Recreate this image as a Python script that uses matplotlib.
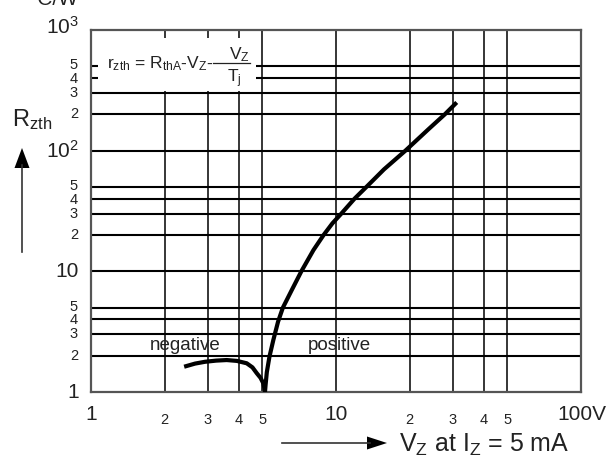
import numpy as np
import matplotlib
matplotlib.use("Agg")
import matplotlib.pyplot as plt
from matplotlib.patches import Rectangle, Polygon
from matplotlib.lines import Line2D

plt.rcParams['font.family'] = ['Liberation Sans', 'DejaVu Sans']
plt.rcParams['mathtext.fontset'] = 'custom'
plt.rcParams['mathtext.rm'] = 'Liberation Sans'
plt.rcParams['mathtext.it'] = 'Liberation Sans'
plt.rcParams['mathtext.bf'] = 'Liberation Sans:bold'

# Curves (V_Z in V, r_zth in C/W)
pos_vz = [5.13, 5.16, 5.22, 5.35, 5.55, 5.8, 6.07, 6.6, 7.22, 8.09,
          8.9, 9.67, 10.5, 11.9, 13.3, 15.7, 19.2, 23.8, 27.8, 31.1]
pos_r = [1.0, 1.15, 1.46, 1.96, 2.7, 3.82, 5.0, 7, 10, 15,
         20, 25, 30, 40, 50, 70, 100, 150, 200, 251]
neg_vz = [2.40, 2.66, 2.92, 3.24, 3.58, 3.94, 4.32, 4.56, 4.75, 4.92, 5.05, 5.10, 5.13]
neg_r = [1.62, 1.72, 1.78, 1.82, 1.84, 1.81, 1.73, 1.60, 1.43, 1.31, 1.18, 1.08, 1.0]

x_major = [1, 10, 100]
x_major_labels = ['1', '10', '100V']
x_minor = [2, 3, 4, 5, 20, 30, 40, 50]
y_major = [1, 10, 100, 1000]
y_major_labels = ['1', '10', r'$\mathregular{10^2}$', r'$\mathregular{10^3}$']
y_minor = [2, 3, 4, 5, 20, 30, 40, 50, 200, 300, 400, 500]

W, H = 611, 458
fig = plt.figure(figsize=(W / 100, H / 100), dpi=100)


def px(x, y):
    # pixel position (top-left origin) -> inches for dpi_scale_trans
    return (x / 100, (H - y) / 100)


left, right, top, bottom = 91, 581, 30, 392
ax = fig.add_axes([left / W, 1 - bottom / H, (right - left) / W, (bottom - top) / H])
ax.set_xscale('log')
ax.set_yscale('log')
ax.set_xlim(1, 100)
ax.set_ylim(1, 1000)
ax.set_xticks([])
ax.set_yticks([])
ax.minorticks_off()
ax.tick_params(which='both', length=0, labelbottom=False, labelleft=False)
for s in ax.spines.values():
    s.set_color('#555555')
    s.set_linewidth(1.6)

# grid
for v in x_minor + [10]:
    ax.axvline(v, color='black', lw=1.1, zorder=1)
for v in y_minor + [10, 100]:
    ax.axhline(v, color='black', lw=1.5, zorder=1)

# white box for the formula
ax.add_patch(Rectangle((1.068, 312), 4.71 - 1.068, 857 - 312, facecolor='white',
                       edgecolor='none', zorder=2))

ax.plot(pos_vz, pos_r, color='black', lw=3, solid_capstyle='butt', zorder=3)
ax.plot(neg_vz, neg_r, color='black', lw=3, solid_capstyle='butt', zorder=3)

ax.text(1.74, 2.45, 'negative', fontsize=13.5, color='#222222', va='center', zorder=4)
ax.text(7.69, 2.42, 'positive', fontsize=13.5, color='#222222', va='center', zorder=4)

tr = fig.dpi_scale_trans
tc = '#222222'

# x tick labels
for v, lab in zip(x_major, x_major_labels):
    xp = left + np.log10(v) * (right - left) / 2
    if lab == '100V':
        fig.text(*px(557, 415), lab, transform=tr, fontsize=15, color=tc, ha='left', va='center')
    else:
        fig.text(*px(xp, 415), lab, transform=tr, fontsize=15, color=tc, ha='center', va='center')
for v in x_minor:
    xp = left + np.log10(v) * (right - left) / 2
    lab = str(int(v if v < 10 else v / 10))
    fig.text(*px(xp, 420), lab, transform=tr, fontsize=10.5, color=tc, ha='center', va='center')

# y tick labels
for v, lab in zip(y_major, y_major_labels):
    yp = bottom - np.log10(v) * (bottom - top) / 3
    if v == 1000:
        yp -= 3
    fig.text(*px(79, yp), lab, transform=tr, fontsize=15, color=tc, ha='right', va='center')
for v in y_minor:
    yp = bottom - np.log10(v) * (bottom - top) / 3
    d = v
    while d >= 10:
        d //= 10
    if d == 5:
        yp -= 1
    elif d == 4:
        yp += 1
    fig.text(*px(78, yp), str(d), transform=tr, fontsize=10.5, color=tc, ha='right', va='center')

# units and axis titles
fig.text(*px(79, 5), '°C/W', transform=tr, fontsize=15, color=tc, ha='right', va='baseline')
fig.text(*px(12, 126), r'$\mathregular{R_{zth}}$', transform=tr, fontsize=17, color=tc,
         ha='left', va='baseline')
fig.text(*px(399, 452), r'$\mathregular{V_Z}$ at $\mathregular{I_Z}$ = 5 mA', transform=tr,
         fontsize=18, color=tc, ha='left', va='baseline')

# arrows
fig.add_artist(Line2D([22 / 100, 22 / 100], [(H - 252) / 100, (H - 165) / 100],
                      transform=tr, color='#333333', lw=1.2))
fig.add_artist(Polygon([px(22, 148), px(14.5, 168), px(29.5, 168)], closed=True,
                       transform=tr, facecolor='black', edgecolor='none'))
fig.add_artist(Line2D([282 / 100, 370 / 100], [(H - 443) / 100, (H - 443) / 100],
                      transform=tr, color='#333333', lw=1.2))
fig.add_artist(Polygon([px(387, 443), px(367, 436.5), px(367, 449.5)], closed=True,
                       transform=tr, facecolor='black', edgecolor='none'))

# formula
fig.text(*px(107, 68), r'$\mathregular{r_{zth}}$ = $\mathregular{R_{thA}}$-$\mathregular{V_Z}$-',
         transform=tr, fontsize=12.5, color=tc, ha='left', va='baseline')
fig.add_artist(Line2D([213 / 100, 250 / 100], [(H - 63) / 100, (H - 63) / 100],
                      transform=tr, color='#222222', lw=0.9))
fig.text(*px(239, 59), r'$\mathregular{V_Z}$', transform=tr, fontsize=12.5, color=tc,
         ha='center', va='baseline')
fig.text(*px(234, 82), r'$\mathregular{T_j}$', transform=tr, fontsize=12.5, color=tc,
         ha='center', va='baseline')

fig.savefig('out.png', dpi=100)
